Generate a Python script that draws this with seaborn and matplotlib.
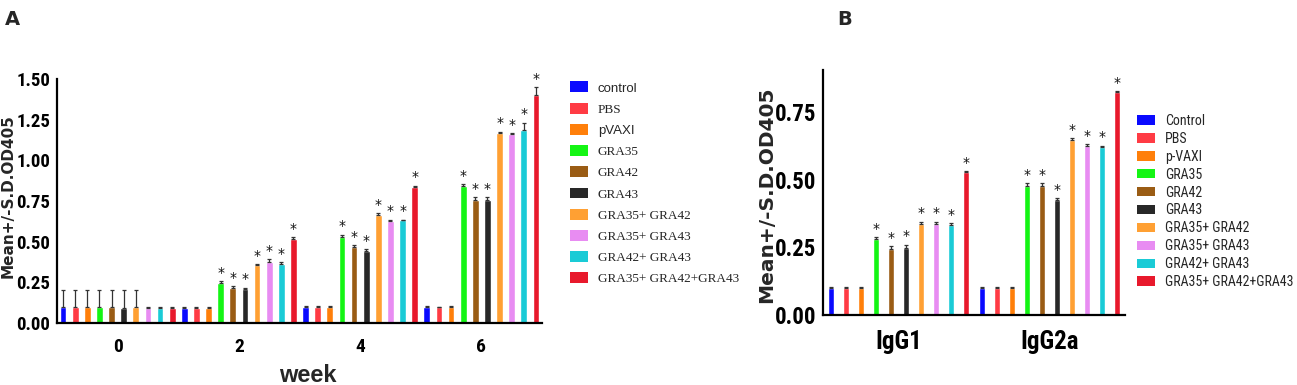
import matplotlib
matplotlib.use("Agg")
import matplotlib.pyplot as plt
import seaborn as sns
import pandas as pd
from matplotlib.patches import Patch
from matplotlib.container import BarContainer

# ---------------- data ----------------
groups = ["control", "PBS", "pVAXI", "GRA35", "GRA42", "GRA43",
          "GRA35+ GRA42", "GRA35+ GRA43", "GRA42+ GRA43", "GRA35+ GRA42+GRA43"]
groups_b = ["Control", "PBS", "p-VAXI", "GRA35", "GRA42", "GRA43",
            "GRA35+ GRA42", "GRA35+ GRA43", "GRA42+ GRA43", "GRA35+ GRA42+GRA43"]
colors = ["#0a0aff", "#ff3b44", "#ff7f0a", "#14f514", "#9a5c14", "#282828",
          "#ffa033", "#e88cf2", "#1acbd6", "#e8192c"]

weeks = ["0", "2", "4", "6"]
control_A = [0.100, 0.095, 0.098, 0.098]
pbs_A     = [0.100, 0.095, 0.098, 0.097]
pvaxi_A   = [0.100, 0.095, 0.098, 0.098]
gra35_A   = [0.100, 0.246, 0.531, 0.841]
gra42_A   = [0.100, 0.217, 0.468, 0.757]
gra43_A   = [0.095, 0.209, 0.443, 0.757]
g35_42_A  = [0.097, 0.355, 0.661, 1.170]
g35_43_A  = [0.092, 0.377, 0.628, 1.161]
g42_43_A  = [0.092, 0.365, 0.632, 1.184]
all3_A    = [0.095, 0.519, 0.835, 1.404]

control_sd = [0.100, 0.004, 0.004, 0.004]
pbs_sd     = [0.100, 0.004, 0.004, 0.004]
pvaxi_sd   = [0.100, 0.004, 0.004, 0.004]
gra35_sd   = [0.100, 0.010, 0.012, 0.012]
gra42_sd   = [0.100, 0.010, 0.012, 0.015]
gra43_sd   = [0.105, 0.008, 0.012, 0.015]
g35_42_sd  = [0.103, 0.008, 0.015, 0.006]
g35_43_sd  = [0.004, 0.015, 0.006, 0.006]
g42_43_sd  = [0.004, 0.010, 0.004, 0.047]
all3_sd    = [0.004, 0.008, 0.010, 0.047]

isotypes = ["IgG1", "IgG2a"]
igg1      = [0.100, 0.099, 0.100, 0.281, 0.245, 0.248, 0.337, 0.337, 0.333, 0.527]
igg2a     = [0.100, 0.100, 0.100, 0.477, 0.477, 0.423, 0.646, 0.624, 0.619, 0.822]
igg1_sd   = [0.003, 0.003, 0.004, 0.007, 0.009, 0.011, 0.008, 0.007, 0.006, 0.004]
igg2a_sd  = [0.003, 0.003, 0.004, 0.010, 0.010, 0.008, 0.006, 0.008, 0.006, 0.004]

vals_A = [control_A, pbs_A, pvaxi_A, gra35_A, gra42_A, gra43_A,
          g35_42_A, g35_43_A, g42_43_A, all3_A]
sds_A = [control_sd, pbs_sd, pvaxi_sd, gra35_sd, gra42_sd, gra43_sd,
         g35_42_sd, g35_43_sd, g42_43_sd, all3_sd]

# ---------------- figure ----------------
sns.set_style("white")
COND = ["Roboto Condensed", "DejaVu Sans"]
plt.rcParams["font.family"] = COND

W, H = 1297, 385
fig = plt.figure(figsize=(W / 100, H / 100), dpi=100)

def px_axes(l, r, t, b):
    return fig.add_axes([l / W, (H - b) / H, (r - l) / W, (b - t) / H])

axA = px_axes(57, 542, 79, 323)
axB = px_axes(823, 1125, 70, 315)

# panel A
rowsA = []
for gi, g in enumerate(groups):
    for wi, w in enumerate(weeks):
        rowsA.append({"week": w, "group": g, "value": vals_A[gi][wi], "sd": sds_A[gi][wi]})
dfA = pd.DataFrame(rowsA)
sns.barplot(data=dfA, x="week", y="value", hue="group", order=weeks, hue_order=groups,
            palette=colors, width=1.0, gap=0.45, errorbar=None, legend=False, ax=axA,
            saturation=1)

# panel B
rowsB = []
for gi, g in enumerate(groups_b):
    rowsB.append({"iso": "IgG1", "group": g, "value": igg1[gi], "sd": igg1_sd[gi]})
    rowsB.append({"iso": "IgG2a", "group": g, "value": igg2a[gi], "sd": igg2a_sd[gi]})
dfB = pd.DataFrame(rowsB)
sns.barplot(data=dfB, x="iso", y="value", hue="group", order=isotypes, hue_order=groups_b,
            palette=colors, width=1.0, gap=0.6, errorbar=None, legend=False, ax=axB,
            saturation=1)

def decorate(ax, df, xcol, xorder, hue_order, star_from_x, star_fs):
    bars = [c for c in list(ax.containers) if isinstance(c, BarContainer)]
    for hi, cont in enumerate(bars):
        for xi, bar in enumerate(cont):
            row = df[(df[xcol] == xorder[xi]) & (df["group"] == hue_order[hi])].iloc[0]
            cx = bar.get_x() + bar.get_width() / 2
            top = row["value"] + row["sd"]
            ax.errorbar(cx, row["value"], yerr=[[0], [row["sd"]]], fmt="none",
                        ecolor="#333333", elinewidth=0.9, capsize=1.6, capthick=0.9,
                        clip_on=False)
            if xi >= star_from_x and hi >= 3:
                ax.annotate("*", (cx, top), xytext=(0, 1), textcoords="offset points",
                            ha="center", va="bottom", fontsize=star_fs,
                            family="DejaVu Sans", color="#111111", annotation_clip=False)

decorate(axA, dfA, "week", weeks, groups, 1, 10)
decorate(axB, dfB, "iso", isotypes, groups_b, 0, 10)

tickfont = dict(family=COND, weight="bold")
for ax, ylim, yt, xlabels, xfs, yfs in [
        (axA, 1.5, [0, 0.25, 0.5, 0.75, 1.0, 1.25, 1.5], weeks, 14, 13.5),
        (axB, 0.905, [0, 0.25, 0.5, 0.75], isotypes, 18, 16.5)]:
    ax.set_ylim(0, ylim)
    ax.set_xlim(-0.5, len(xlabels) - 0.5)
    ax.set_yticks(yt)
    ax.set_yticklabels([f"{v:.2f}" for v in yt], fontsize=yfs, **tickfont)
    ax.set_xticks(range(len(xlabels)))
    ax.set_xticklabels(xlabels, fontsize=xfs, **tickfont)
    for s in ["top", "right"]:
        ax.spines[s].set_visible(False)
    for s in ["left", "bottom"]:
        ax.spines[s].set_linewidth(1.6)
        ax.spines[s].set_color("black")
    ax.tick_params(axis="x", direction="out", length=8, width=1.6, pad=3, colors="black")
    ax.tick_params(axis="y", direction="out", length=4, width=1.4, pad=1, colors="black")
    ax.set_xlabel("")
    ax.set_ylabel("")

axA.set_ylabel("Mean+/-S.D.OD405", fontsize=11, fontweight="bold", family="DejaVu Sans")
axA.yaxis.set_label_coords(-0.0856, 0.52)
axA.set_xlabel("week", fontsize=17, fontweight="bold", family="Liberation Sans")
axA.xaxis.label.set_va("baseline")
axA.xaxis.set_label_coords(0.5165, -0.242)

axB.set_ylabel("Mean+/-S.D.OD405", fontsize=14.5, fontweight="bold", family="DejaVu Sans")
axB.yaxis.set_label_coords(-0.156, 0.49)

# legends
hA = [Patch(facecolor=c, edgecolor="none") for c in colors]
legA = fig.legend(hA, groups, loc="upper left", bbox_to_anchor=(570 / W, 1 - 81.5 / H),
                  frameon=False, fontsize=9.5, handlelength=1.36, handleheight=0.9,
                  handletextpad=0.75, labelspacing=0.62, borderpad=0, borderaxespad=0)
for i, t in enumerate(legA.get_texts()):
    t.set_family("Liberation Sans" if i in (0, 2) else "Liberation Serif")

hB = [Patch(facecolor=c, edgecolor="none") for c in colors]
legB = fig.legend(hB, groups_b, loc="upper left", bbox_to_anchor=(1137 / W, 1 - 114 / H),
                  frameon=False, handlelength=1.3, handleheight=0.65,
                  handletextpad=0.7, labelspacing=0.28, borderpad=0, borderaxespad=0,
                  prop=dict(family="Roboto Condensed", size=10))

fig.text(5 / W, 1 - 25 / H, "A", fontsize=14, fontweight="bold", family="DejaVu Sans")
fig.text(837 / W, 1 - 25 / H, "B", fontsize=14, fontweight="bold", family="DejaVu Sans")

fig.savefig("out.png", dpi=100)
